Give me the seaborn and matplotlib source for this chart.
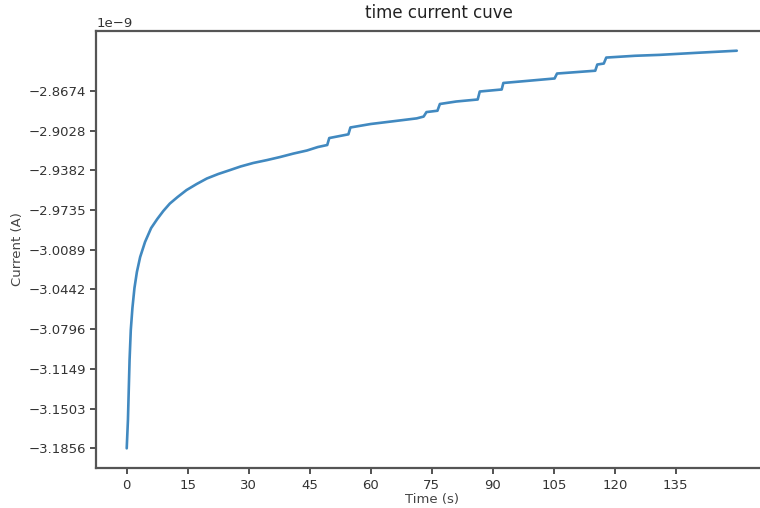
import numpy as np
import pandas as pd
import matplotlib
matplotlib.use("Agg")
import matplotlib.pyplot as plt
from matplotlib.ticker import ScalarFormatter
import seaborn as sns

# ---- data ----
time_s = [0.0, 0.3, 0.5, 0.7, 1.0, 1.4, 1.9, 2.5, 3.3, 4.5, 6.0, 7.5, 9.0, 10.6,
          12.5, 14.7, 17.2, 19.7, 22.5, 25.4, 28.0, 31.1, 34.5, 37.7, 41.0, 44.3,
          47.0, 49.3, 49.8, 54.5, 55.0, 60.0, 65.0, 71.3, 73.0, 73.7, 76.4, 77.0,
          81.0, 86.3, 86.8, 92.2, 92.6, 98.0, 105.2, 105.8, 115.2, 115.7, 117.3,
          117.9, 125.0, 131.0, 140.0, 150.0]
current_nA = [-3.1856, -3.1604, -3.1337, -3.1070, -3.0803, -3.0608, -3.0430,
              -3.0287, -3.0154, -3.0020, -2.9896, -2.9816, -2.9744, -2.9678,
              -2.9620, -2.9558, -2.9504, -2.9455, -2.9415, -2.9380, -2.9348,
              -2.9317, -2.9291, -2.9264, -2.9233, -2.9206, -2.9175, -2.9157,
              -2.9095, -2.9062, -2.9001, -2.8970, -2.8948, -2.8920, -2.8904,
              -2.8864, -2.8852, -2.8792, -2.8770, -2.8752, -2.8681, -2.8663,
              -2.8605, -2.8588, -2.8565, -2.8521, -2.8496, -2.8441, -2.8432,
              -2.8379, -2.8363, -2.8355, -2.8337, -2.8318]
x_ticks = [0, 15, 30, 45, 60, 75, 90, 105, 120, 135]
y_ticks_nA = [-3.1856, -3.1503, -3.1149, -3.0796, -3.0442, -3.0089,
              -2.9735, -2.9382, -2.9028, -2.8674]

df = pd.DataFrame({"Time (s)": time_s,
                   "Current (A)": np.array(current_nA) * 1e-9})

sns.set_style("ticks")
plt.rcParams["font.family"] = ["DejaVu Sans"]

fig = plt.figure(figsize=(7.6, 5.08), dpi=100)
ax = fig.add_axes([0.1266, 0.0783, 0.883, 0.861])

sns.lineplot(data=df, x="Time (s)", y="Current (A)", ax=ax,
             color="#4189c0", linewidth=1.9, sort=False)


class FourDecFormatter(ScalarFormatter):
    def _set_format(self):
        self.format = "%1.4f"


fmt = FourDecFormatter(useOffset=False, useMathText=False)
fmt.set_powerlimits((-3, 3))
ax.yaxis.set_major_formatter(fmt)
ax.set_yticks(np.array(y_ticks_nA) * 1e-9)
ax.set_xticks(x_ticks)
ax.margins(x=0.05, y=0.05)

ax.tick_params(axis="both", labelsize=9.5, colors="#333333",
               length=4, width=1.2, direction="out")
ax.yaxis.get_offset_text().set_fontsize(9.5)
ax.yaxis.get_offset_text().set_color("#333333")
for s in ax.spines.values():
    s.set_color("#555555")
    s.set_linewidth(1.6)

ax.set_xlabel("Time (s)", fontsize=9.5, color="#444444", labelpad=1)
ax.set_ylabel("Current (A)", fontsize=9.5, color="#444444", labelpad=3)
ax.set_title("time current cuve", fontsize=12, color="#222222", pad=9, x=0.51)

fig.savefig("out.png", dpi=100)
